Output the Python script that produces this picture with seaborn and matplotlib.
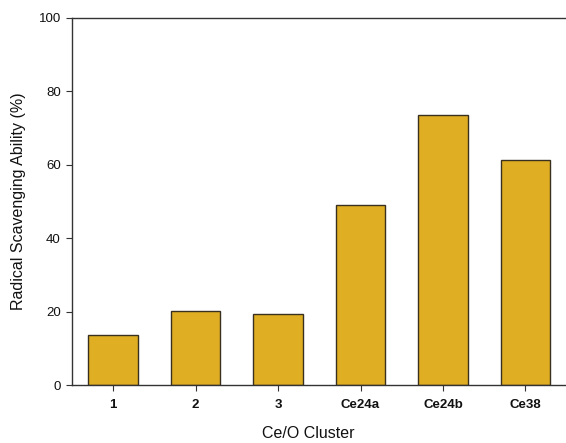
import matplotlib
matplotlib.use('Agg')
import matplotlib.pyplot as plt
import seaborn as sns
import pandas as pd

# datos
clusters = ['1', '2', '3', 'Ce24a', 'Ce24b', 'Ce38']
scavenging = [13.6, 20.1, 19.4, 49.0, 73.6, 61.2]

df = pd.DataFrame({'cluster': clusters, 'scavenging': scavenging})

sns.set_style('white')
plt.rcParams['font.family'] = ['Liberation Sans', 'DejaVu Sans']

fig = plt.figure(figsize=(5.66, 4.43), dpi=100)
ax = fig.add_axes([72 / 566, 58 / 443, 577 / 566, 367 / 443])

sns.barplot(data=df, x='cluster', y='scavenging', color='#E0AE22',
            saturation=1, width=0.6, edgecolor='#3a3020', linewidth=1.0, ax=ax)

ax.set_xlim(-0.5, 6.5)
ax.set_ylim(0, 100)
ax.set_yticks([0, 20, 40, 60, 80, 100])

for s in ['left', 'bottom', 'top']:
    ax.spines[s].set_color('#333333')
    ax.spines[s].set_linewidth(1.0)
ax.spines['right'].set_visible(False)

ax.tick_params(axis='both', direction='out', length=4, width=0.8, color='#333333',
               labelsize=9.5, labelcolor='#111111', bottom=True, left=True, pad=4)
for lbl in ax.get_xticklabels():
    lbl.set_fontweight('bold')
ax.tick_params(axis='x', pad=6)

ax.set_ylabel('Radical Scavenging Ability (%)', fontsize=11.5, color='#111111', labelpad=9)
ax.set_xlabel('Ce/O Cluster', fontsize=11.5, color='#111111')
ax.xaxis.set_label_coords(0.409, -0.112)
ax.xaxis.label.set_va('top')

fig.savefig('out.png', dpi=100)
